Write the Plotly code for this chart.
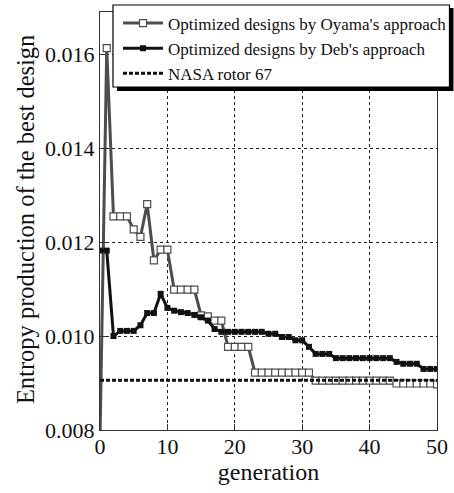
import plotly.graph_objects as go

generation = list(range(0, 51))

oyama = [0.0078, 0.01613, 0.01255, 0.01255, 0.01255, 0.01227, 0.01211, 0.01281,
         0.01161, 0.01184, 0.01184, 0.01099, 0.01099, 0.01099, 0.01099, 0.01044,
         0.01042, 0.01033, 0.01033, 0.00977, 0.00977, 0.00977, 0.00977,
         0.00922, 0.00922, 0.00922, 0.00922, 0.00922, 0.00922, 0.00922, 0.00922, 0.00922,
         0.00905, 0.00905, 0.00905, 0.00905, 0.00905, 0.00905, 0.00905, 0.00905,
         0.00905, 0.00905, 0.00905, 0.00905,
         0.00899, 0.00899, 0.00899, 0.00899, 0.00899, 0.00899, 0.00897]

deb = [0.01182, 0.01182, 0.01000, 0.01011, 0.01011, 0.01011, 0.01023, 0.01049,
       0.01049, 0.01090, 0.01060, 0.01054, 0.01051, 0.01049, 0.01045, 0.01040,
       0.01033, 0.01015, 0.01009, 0.01009, 0.01009, 0.01009, 0.01009, 0.01009,
       0.01009, 0.01005, 0.01005, 0.00998, 0.00998, 0.00991, 0.00991, 0.00977,
       0.00962, 0.00962, 0.00962,
       0.00953, 0.00953, 0.00953, 0.00953, 0.00953, 0.00953, 0.00953, 0.00953, 0.00953,
       0.00945, 0.00941, 0.00941, 0.00941, 0.00930, 0.00930, 0.00930]

nasa_x = [0, 50]
nasa_y = [0.00906, 0.00906]

names = ["Optimized designs by Oyama's approach",
         "Optimized designs by Deb's approach",
         "NASA rotor 67"]

x_ticks = [0, 10, 20, 30, 40, 50]
y_ticks = [0.008, 0.010, 0.012, 0.014, 0.016]

x_title = "generation"
y_title = "Entropy production of the best design"

FONT = "Liberation Serif"

fig = go.Figure()
fig.add_trace(go.Scatter(
    x=generation, y=oyama, name=names[0], mode="lines+markers",
    line=dict(color="#4d4d4d", width=3),
    marker=dict(symbol="square", size=7, color="white",
                line=dict(color="#4d4d4d", width=1.2)),
))
fig.add_trace(go.Scatter(
    x=generation, y=deb, name=names[1], mode="lines+markers",
    line=dict(color="#111111", width=3),
    marker=dict(symbol="square", size=6, color="#111111"),
))
fig.add_trace(go.Scatter(
    x=nasa_x, y=nasa_y, name=names[2], mode="lines",
    line=dict(color="#111111", width=3, dash="4px,2px"),
))

# plot area in pixels: x 100..437.5, y 12..430
CW, CH = 454, 493
L, R, T, B = 100, 437.5, 12, 430
W, H = R - L, B - T


def px(x):
    return (x - L) / W


def py(y):
    return (B - y) / H


shapes = [
    # legend shadow
    dict(type="rect", xref="paper", yref="paper",
         x0=px(117), x1=px(454), y0=py(91), y1=py(8),
         fillcolor="black", line=dict(width=0), layer="above"),
    # legend box
    dict(type="rect", xref="paper", yref="paper",
         x0=px(113), x1=px(450), y0=py(87), y1=py(5),
         fillcolor="white", line=dict(color="black", width=1.2), layer="above"),
]

fig.update_layout(
    width=CW, height=CH,
    margin=dict(l=L, r=CW - R, t=T, b=CH - B, autoexpand=False),
    paper_bgcolor="white", plot_bgcolor="white",
    font=dict(family=FONT, size=20, color="#111111"),
    showlegend=True,
    legend=dict(xref="container", yref="container",
                x=118 / CW, y=1 - 5.5 / CH, xanchor="left", yanchor="top",
                bgcolor="rgba(0,0,0,0)", borderwidth=0,
                font=dict(family=FONT, size=17, color="#111111"),
                tracegroupgap=0, itemwidth=40),
    shapes=shapes,
    annotations=[dict(
        text=y_title, xref="paper", yref="paper",
        x=px(25), y=py(220), xanchor="center", yanchor="middle",
        textangle=-90, showarrow=False,
        font=dict(family=FONT, size=24.5, color="#111111"),
    )],
)

fig.update_xaxes(
    range=[0, 50], tickvals=x_ticks, ticktext=[str(v) for v in x_ticks],
    showline=True, linecolor="#333333", linewidth=1, mirror=True,
    ticks="inside", ticklen=6, tickcolor="#333333",
    showgrid=True, gridcolor="#222222", gridwidth=1, griddash="dot",
    zeroline=False, ticklabelstandoff=-3,
    title=dict(text=x_title, font=dict(family=FONT, size=24), standoff=0),
    tickfont=dict(family=FONT, size=22),
)
fig.update_yaxes(
    range=[0.008, 0.0169], tickvals=y_ticks,
    ticktext=["%.3f" % v for v in y_ticks],
    showline=True, linecolor="#333333", linewidth=1, mirror=True,
    ticks="inside", ticklen=6, tickcolor="#333333",
    showgrid=True, gridcolor="#222222", gridwidth=1, griddash="dot",
    zeroline=False, automargin=False,
    tickfont=dict(family=FONT, size=22),
)

fig.write_html("out.html", config={"displayModeBar": False},
               post_script="document.body.style.margin='0';")
